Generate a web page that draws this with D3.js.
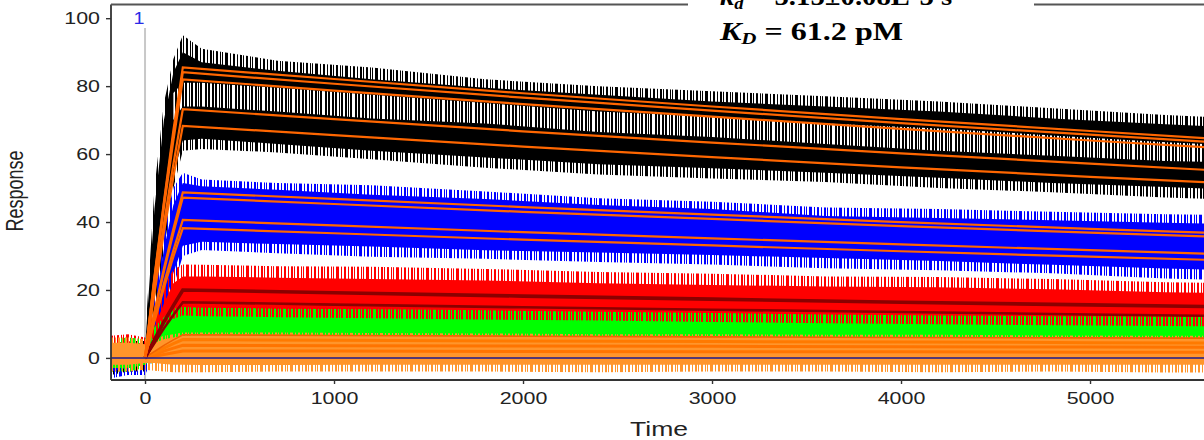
<!DOCTYPE html>
<html><head><meta charset="utf-8">
<script src="https://cdn.jsdelivr.net/npm/d3@7/dist/d3.min.js"></script>
<style>
html,body{margin:0;padding:0;background:#fff;}
svg{display:block;}
</style></head><body>
<svg id="chart" width="1204" height="440"></svg>
<script>
// ---------------- data ----------------
const xTicks = [0, 1000, 2000, 3000, 4000, 5000];
const yTicks = [0, 20, 40, 60, 80, 100];

// noisy sensorgram envelopes (dense body and spike tips)
const bandTimes = [-180,-90,0,50,100,150,200,300,700,1200,1800,2400,3000,3600,4200,4800,5400,5800];
const blackHiTip = [4,5,5,50,75,88,95,91,87.5,85.5,82,80,78.5,77,75.5,73.5,71.5,70.5];
const blackHi    = [2,3,3,44,70,84,90,87,84.5,82,79.5,77.5,75.5,74,72.5,70.5,68.8,67.8];
const blackLo    = [-3,-3,-2,17,37,54,64,64.5,63,61,59,57,55.8,54.5,53,51.5,50.3,49.5];
const blackLoTip = [-5,-4,-4,12,32,50,61,61.5,60.5,58.5,56,54,52.8,51.8,50,48.8,47.2,46.5];

const whiteTimes = [150,200,300,700,1200,1800,2400,3000,3600,4200,4800,5400,5800];
const whiteHi    = [78,81,81,79.5,77.5,75,72.5,71,69,67.5,65.5,63.5,62.5];
const whiteLo    = [70,74,74,72.5,70.5,69,66.5,65,63,61,59.5,58,57.5];

const blueHiTip = [2,3,3,20,38,50,54.5,52.5,51.5,50.8,49,47,46,44.3,43.8,43,42.3,42];
const blueHi    = [0,1,1,14,32,45,51.5,50.5,49.5,48,46.8,45,43.8,41.8,41.2,40.5,39.8,39.4];
const blueLo    = [-4,-3,-2,3,14,25,33,34.2,33.5,32.8,31.7,31,30.3,29.4,28.5,27.4,26.3,25.8];
const blueLoTip = [-6,-5,-5,1,10,21,30,31.8,30.8,29.8,29.2,28.2,27.5,26.4,25.8,24.9,23.4,22.8];

const redHiTip = [6.5,7,6,14,21,26,27.5,27.4,27,26.8,26.2,25.3,24.8,24,23.8,23.2,22.3,22];
const redHi    = [4,5,4,9,16,22,24,24,23.6,23.2,22.8,22,21.5,21,20.8,20.2,19.3,19];
const redLo    = [-1,-1,-1,2,5,8,11,11,11,11,10.5,10.2,10,9.8,9.5,9.2,9,9];
const redLoTip = [-2,-2,-2,1,4,7,10,10,10,10,9.5,9.2,9,8.8,8.5,8.2,8,8];

const greenHiTip = [5.5,6,5.5,9,12,14.5,15,14.8,14.5,14.3,14,13.6,13.2,12.8,12.5,12.3,12.2,12];
const greenHi    = [3.5,4,3.5,6,9.5,11.5,12.5,12.3,12,11.7,11.3,11,10.6,10.2,9.9,9.6,9.4,9.3];
const greenLo    = [-3,-3,-2,0,2,3.5,4.5,4.5,4.5,4.5,4.5,4.3,4.2,4,4,4,3.8,3.8];
const greenLoTip = [-4,-4,-3,-1,1,2.5,3.5,3.5,3.5,3.5,3.5,3.3,3.2,3,3,3,2.8,2.8];

const orangeHiTip = [6,6,5.5,5.5,6.5,7,7.5,7.5,7.5,7.3,7.2,7,7,6.8,6.8,6.6,6.5,6.5];
const orangeHi    = [4.5,4.5,4,4.5,5.5,6,6.5,6.8,6.8,6.6,6.5,6.3,6.2,6.1,6,5.9,5.8,5.8];
const orangeLo    = [-2,-2,-1.5,-1.5,-1.8,-2,-2,-2.1,-2.1,-2,-2,-2,-2,-2,-2,-2,-2,-2];
const orangeLoTip = [-4,-4,-3.5,-3.8,-4,-4.2,-4.2,-4.2,-4,-4,-4,-4.2,-4,-4,-4.2,-4,-4.3,-4.3];

// fitted curves
const fitTimes  = [0,50,100,150,200,1000,2000,3000,4000,5000,5800];
const fitBlack1 = [0,24,46,67,85.5,82.1,77.9,74.0,70.3,66.8,64.0];
const fitBlack2 = [0,23.5,45.4,65.6,84.1,80.7,76.6,72.8,69.1,65.7,63.0];
const fitBlack3 = [0,23,44.3,64,82.0,78.7,74.7,71.0,67.4,64.0,61.4];
const fitBlack4 = [0,20.5,39.5,57,73.2,70.3,66.7,63.4,60.2,57.2,54.8];
const fitBlack5 = [0,19,37,53.3,68.3,65.6,62.2,59.1,56.1,53.3,51.2];
const fitBlue1  = [0,13.6,26.3,38,48.7,46.8,44.4,42.2,40.0,38.0,36.5];
const fitBlue2  = [0,13.2,25.5,36.8,47.2,45.3,43.0,40.9,38.8,36.9,35.4];
const fitBlue3  = [0,11.4,21.9,31.7,40.6,39.0,37.0,35.2,33.4,31.7,30.4];
const fitBlue4  = [0,10.7,20.6,29.8,38.2,36.7,34.8,33.1,31.4,29.8,28.6];
const fitRed1   = [0,5.4,10.6,15.4,20.0,19.2,18.2,17.3,16.4,15.6,15.0];
const fitRed2   = [0,4.4,8.7,12.6,16.4,15.7,14.9,14.2,13.5,12.8,12.3];
const fitLow1   = [0,1.9,3.7,5.3,6.8,6.6,6.4,6.2,6.0,5.9,5.8];
const fitLow2   = [0,1.5,2.9,4.2,5.4,5.2,5.0,4.8,4.7,4.5,4.4];
const fitLow3   = [0,1.0,2.0,2.9,3.7,3.6,3.5,3.4,3.3,3.2,3.1];
const fitLow4   = [0,0.5,1.0,1.5,2.0,2.0,1.9,1.8,1.8,1.7,1.7];

const baseTimes  = [-180, 5800];
const baseValues = [0, 0];
const injectionTime = [0];
const injectionLabel = "1";

const kdLabel = ["k", "d", " = 5.15±0.08E-5 s", "−1"];
const KDLabel = ["K", "D", " = 61.2 pM"];
const xTitle = "Time";
const yTitle = "Response";

// ---------------- drawing ----------------
const svg = d3.select("#chart");
const x = d3.scaleLinear().domain([-180, 5800]).range([111, 111 + 5980 * 0.189]);
const y = d3.scaleLinear().domain([-6.5, 104]).range([380, 4.6]);

const defs = svg.append("defs");
defs.append("clipPath").attr("id", "plotClip").append("rect")
  .attr("x", x(-180)).attr("y", y(104)).attr("width", x(5800) - x(-180)).attr("height", y(-6.5) - y(104));

// irregular vertical-stripe texture used to render the spiky noise fringe
const stripeUnits = [[0,2],[3,1],[6,2],[10,1],[12,1],[15,3],[20,1],[23,2],[27,1]];
function stripePattern(id, color, offset) {
  const p = defs.append("pattern").attr("id", id).attr("patternUnits", "userSpaceOnUse")
    .attr("width", 30).attr("height", 20).attr("patternTransform", `translate(${offset},0)`);
  stripeUnits.forEach(([sx, w]) =>
    p.append("rect").attr("x", sx).attr("y", 0).attr("width", w).attr("height", 20).attr("fill", color));
}
const colors = {black:"#000000", white:"#ffffff", blue:"#0000ff", red:"#ff0000", green:"#00ff00", orange:"#ff952b"};
let off = 0;
for (const k in colors) { stripePattern("st-" + k, colors[k], off); off += 7; }

const zip = (ts, lo, hi) => ts.map((t, i) => ({t, lo: lo[i], hi: hi[i]}));
const area = d3.area().x(d => x(d.t)).y0(d => y(d.lo)).y1(d => y(d.hi));
const line = d3.line().x(d => x(d.t)).y(d => y(d.v));
const zipLine = (ts, vs) => ts.map((t, i) => ({t, v: vs[i]}));

// injection marker
svg.append("line")
  .attr("x1", x(injectionTime[0])).attr("x2", x(injectionTime[0]))
  .attr("y1", 28).attr("y2", y(-6.5))
  .attr("stroke", "#c8c8c8").attr("stroke-width", 2);

const plot = svg.append("g").attr("clip-path", "url(#plotClip)");

const traces = [
  {c:"black", hiTip:blackHiTip, hi:blackHi, lo:blackLo, loTip:blackLoTip},
  {c:"blue", hiTip:blueHiTip, hi:blueHi, lo:blueLo, loTip:blueLoTip},
  {c:"red", hiTip:redHiTip, hi:redHi, lo:redLo, loTip:redLoTip},
  {c:"green", hiTip:greenHiTip, hi:greenHi, lo:greenLo, loTip:greenLoTip},
  {c:"orange", hiTip:orangeHiTip, hi:orangeHi, lo:orangeLo, loTip:orangeLoTip}
];
traces.forEach(tr => {
  plot.append("path").attr("d", area(zip(bandTimes, tr.loTip, tr.hiTip))).attr("fill", `url(#st-${tr.c})`);
  plot.append("path").attr("d", area(zip(bandTimes, tr.lo, tr.hi))).attr("fill", colors[tr.c]);
  if (tr.c === "black") {
    plot.append("path").attr("d", area(zip(whiteTimes, whiteLo, whiteHi))).attr("fill", "url(#st-white)");
  }
});

// fitted curves
const fits = [
  {v: fitLow4, color: "#ff7400", w: 3},
  {v: fitLow3, color: "#ff7400", w: 3},
  {v: fitLow2, color: "#ff7a00", w: 3},
  {v: fitLow1, color: "#f06400", w: 1.6},
  {v: fitRed2, color: "#8b0000", w: 2.6},
  {v: fitRed1, color: "#8b0000", w: 3.6},
  {v: fitBlue4, color: "#ff6600", w: 2.2},
  {v: fitBlue3, color: "#ff6600", w: 2.2},
  {v: fitBlue2, color: "#ff6600", w: 2.2},
  {v: fitBlue1, color: "#ff6600", w: 2.2},
  {v: fitBlack5, color: "#ff6600", w: 2.2},
  {v: fitBlack4, color: "#ff6600", w: 2.2},
  {v: fitBlack3, color: "#ff6600", w: 2.2},
  {v: fitBlack2, color: "#ff6600", w: 2.2},
  {v: fitBlack1, color: "#ff6600", w: 2.2}
];
fits.forEach(f => {
  plot.append("path").attr("d", line(zipLine(fitTimes, f.v)))
    .attr("fill", "none").attr("stroke", f.color).attr("stroke-width", f.w).attr("stroke-linejoin", "miter");
});

// zero baseline
plot.append("path").attr("d", line(zipLine(baseTimes, baseValues)))
  .attr("fill", "none").attr("stroke", "#1a1a8c").attr("stroke-width", 1.5);

// axes
const axisColor = "#333";
const fontSans = "'Liberation Sans', Arial, sans-serif";
const gx = svg.append("g").attr("transform", `translate(0,${y(-6.5)})`)
  .call(d3.axisBottom(x).tickValues(xTicks).tickSize(4).tickFormat(d3.format("d")));
const gy = svg.append("g").attr("transform", `translate(${x(-180)},0)`)
  .call(d3.axisLeft(y).tickValues(yTicks).tickSize(5).tickFormat(d3.format("d")));
[gx, gy].forEach(g => {
  g.select(".domain").attr("stroke", axisColor).attr("stroke-width", 1.8);
  g.selectAll(".tick line").attr("stroke", axisColor).attr("stroke-width", 1.4);
  g.selectAll(".tick text").attr("fill", "#222").style("font-family", fontSans).style("font-size", "16px")
    .attr("lengthAdjust", "spacingAndGlyphs").attr("textLength", function(){ return this.textContent.length * 11.9; });
});
gx.selectAll(".tick text").attr("y", 24).attr("dy", 0);
gy.selectAll(".tick text").attr("x", -11).attr("dy", "0.35em");
gx.select(".domain").attr("d", `M${x(-180)},0H${x(5800)}`);
gy.select(".domain").attr("d", `M0,${y(104)}V${y(-6.5)}`);
// top frame line
svg.append("line").attr("x1", x(-180)).attr("x2", x(5800)).attr("y1", y(104)).attr("y2", y(104))
  .attr("stroke", "#555").attr("stroke-width", 2);

// injection label
svg.append("text").attr("x", x(injectionTime[0]) - 6).attr("y", 24).attr("text-anchor", "middle")
  .style("font-family", fontSans).style("font-size", "17px").attr("fill", "#2a2ae6")
  .attr("textLength", 11).attr("lengthAdjust", "spacingAndGlyphs").text(injectionLabel);

// axis titles
svg.append("text").attr("x", 659).attr("y", 436).attr("text-anchor", "middle")
  .style("font-family", fontSans).style("font-size", "20px").attr("fill", "#222")
  .attr("textLength", 58).attr("lengthAdjust", "spacingAndGlyphs").text(xTitle);
svg.append("text").attr("transform", "translate(23,191) scale(1.3,1) rotate(-90)").attr("text-anchor", "middle")
  .style("font-family", fontSans).style("font-size", "18px").attr("fill", "#222").text(yTitle);

// annotation box (its first line is cropped by the top edge, as in the original)
svg.append("rect").attr("x", 688).attr("y", 0).attr("width", 346).attr("height", 50).attr("fill", "#fff");
const serif = "'Liberation Serif', 'Times New Roman', serif";
const t1 = svg.append("text").attr("x", 720).attr("y", 5).style("font-family", serif)
  .style("font-size", "26px").style("font-weight", "bold").attr("fill", "#000")
  .attr("textLength", 250).attr("lengthAdjust", "spacingAndGlyphs");
t1.append("tspan").style("font-style", "italic").text(kdLabel[0]);
t1.append("tspan").style("font-style", "italic").style("font-size", "17px").attr("dy", 4).text(kdLabel[1]);
t1.append("tspan").attr("dy", -4).text(kdLabel[2]);
t1.append("tspan").style("font-size", "15px").attr("dy", -10).text(kdLabel[3]);
const t2 = svg.append("text").attr("x", 720).attr("y", 40).style("font-family", serif)
  .style("font-size", "26px").style("font-weight", "bold").attr("fill", "#000")
  .attr("textLength", 183).attr("lengthAdjust", "spacingAndGlyphs");
t2.append("tspan").style("font-style", "italic").text(KDLabel[0]);
t2.append("tspan").style("font-style", "italic").style("font-size", "17px").attr("dy", 4).text(KDLabel[1]);
t2.append("tspan").attr("dy", -4).text(KDLabel[2]);
</script>
</body></html>
